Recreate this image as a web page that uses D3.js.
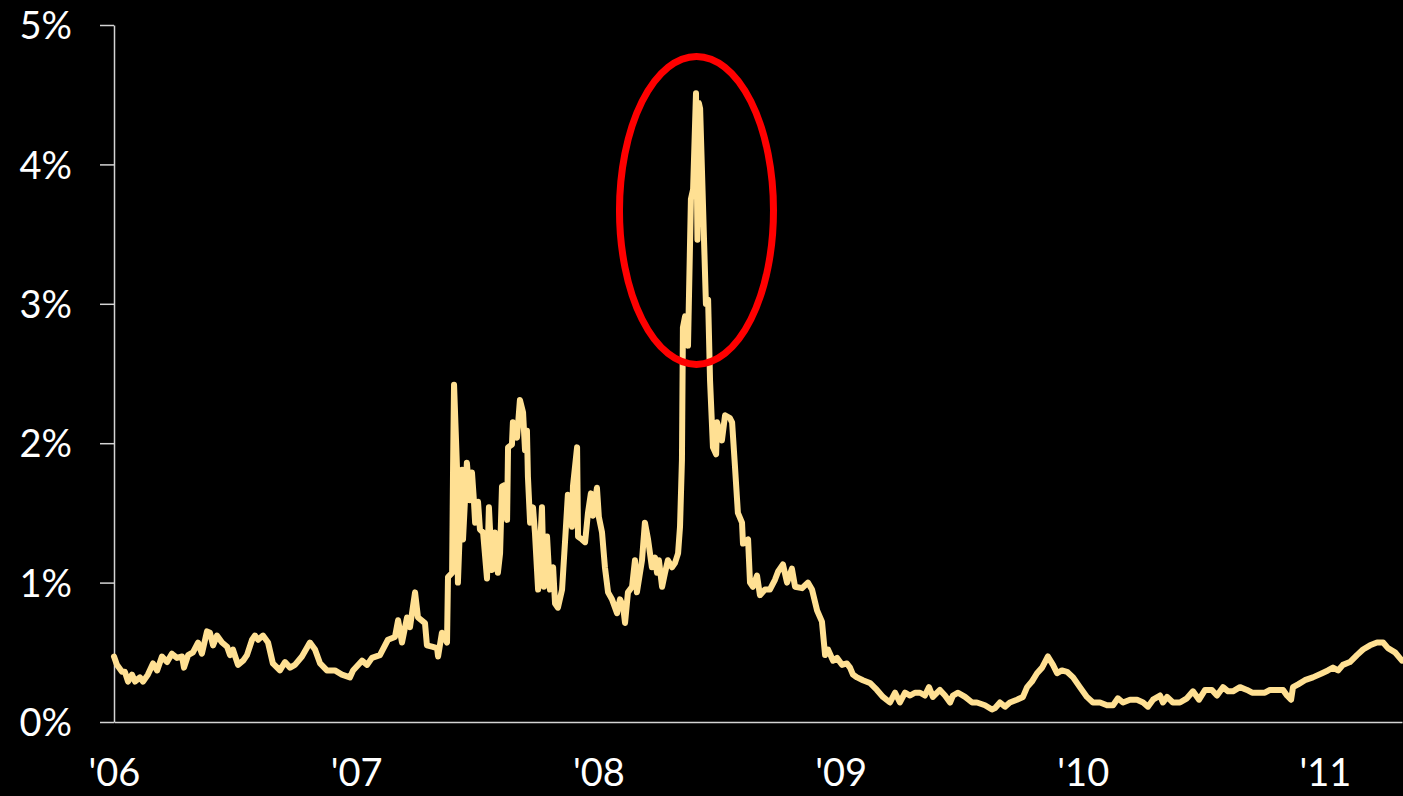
<!DOCTYPE html>
<html lang="en">
<head>
  <meta charset="UTF-8">
  <title>Spread chart 2006-2011</title>
  <style>
      html, body {
          margin: 0;
          padding: 0;
          background: #000;
      }
      .axis path, .axis line {
          stroke: #d4d4d4;
          stroke-width: 1.5px;
      }
      .axis text {
          fill: #fff;
          font-family: Lato, "Open Sans", sans-serif;
          font-size: 38px;
      }
      .line {
          fill: none;
          stroke: #ffe093;
          stroke-width: 6px;
          stroke-linejoin: round;
          stroke-linecap: round;
      }
      .mark {
          fill: none;
          stroke: #ff0000;
          stroke-width: 7px;
      }
  </style>
</head>
<body>
<div id="chart"></div>
<script src="https://d3js.org/d3.v7.min.js"></script>
<script>
  // time as decimal years, values in percent
  const years = [
    2006.000, 2006.012, 2006.033, 2006.045, 2006.058, 2006.074, 2006.087, 2006.107, 2006.120, 2006.140,
    2006.161, 2006.178, 2006.198, 2006.219, 2006.239, 2006.260, 2006.281, 2006.289, 2006.306, 2006.326,
    2006.347, 2006.363, 2006.384, 2006.396, 2006.409, 2006.425, 2006.446, 2006.467, 2006.479, 2006.491,
    2006.512, 2006.533, 2006.549, 2006.570, 2006.582, 2006.595, 2006.615, 2006.636, 2006.656, 2006.685,
    2006.706, 2006.727, 2006.747, 2006.776, 2006.809, 2006.830, 2006.851, 2006.879, 2006.912, 2006.941,
    2006.974, 2006.987, 2007.024, 2007.045, 2007.065, 2007.098, 2007.131, 2007.160, 2007.173, 2007.189,
    2007.210, 2007.222, 2007.243, 2007.255, 2007.284, 2007.292, 2007.313, 2007.334, 2007.338, 2007.354,
    2007.375, 2007.379, 2007.396, 2007.400, 2007.404, 2007.416, 2007.420, 2007.437, 2007.441, 2007.457,
    2007.470, 2007.478, 2007.486, 2007.491, 2007.503, 2007.511, 2007.524, 2007.540, 2007.548, 2007.561,
    2007.573, 2007.585, 2007.594, 2007.602, 2007.614, 2007.623, 2007.627, 2007.643, 2007.647, 2007.664,
    2007.676, 2007.689, 2007.697, 2007.705, 2007.709, 2007.718, 2007.730, 2007.738, 2007.751, 2007.767,
    2007.775, 2007.788, 2007.800, 2007.813, 2007.821, 2007.833, 2007.850, 2007.866, 2007.874, 2007.891,
    2007.895, 2007.912, 2007.916, 2007.932, 2007.945, 2007.957, 2007.969, 2007.978, 2007.994, 2008.002,
    2008.015, 2008.027, 2008.040, 2008.056, 2008.077, 2008.089, 2008.102, 2008.110, 2008.122, 2008.139,
    2008.151, 2008.159, 2008.180, 2008.192, 2008.205, 2008.221, 2008.234, 2008.242, 2008.250, 2008.263,
    2008.275, 2008.287, 2008.304, 2008.316, 2008.329, 2008.337, 2008.345, 2008.349, 2008.358, 2008.370,
    2008.382, 2008.391, 2008.403, 2008.409, 2008.415, 2008.420, 2008.444, 2008.453, 2008.461, 2008.473,
    2008.486, 2008.490, 2008.510, 2008.523, 2008.543, 2008.552, 2008.564, 2008.576, 2008.593, 2008.597,
    2008.618, 2008.626, 2008.638, 2008.655, 2008.667, 2008.688, 2008.708, 2008.729, 2008.742, 2008.762,
    2008.779, 2008.799, 2008.812, 2008.841, 2008.865, 2008.882, 2008.903, 2008.923, 2008.936, 2008.948,
    2008.969, 2008.985, 2009.006, 2009.026, 2009.039, 2009.051, 2009.068, 2009.092, 2009.121, 2009.150,
    2009.175, 2009.204, 2009.225, 2009.245, 2009.266, 2009.287, 2009.307, 2009.328, 2009.348, 2009.365,
    2009.381, 2009.410, 2009.431, 2009.452, 2009.464, 2009.485, 2009.514, 2009.543, 2009.563, 2009.596,
    2009.625, 2009.638, 2009.658, 2009.679, 2009.699, 2009.728, 2009.753, 2009.770, 2009.790, 2009.811,
    2009.832, 2009.856, 2009.877, 2009.894, 2009.914, 2009.935, 2009.960, 2009.988, 2010.017, 2010.042,
    2010.071, 2010.100, 2010.125, 2010.145, 2010.166, 2010.195, 2010.224, 2010.249, 2010.269, 2010.290,
    2010.319, 2010.331, 2010.348, 2010.372, 2010.401, 2010.430, 2010.455, 2010.480, 2010.505, 2010.533,
    2010.554, 2010.579, 2010.600, 2010.620, 2010.649, 2010.678, 2010.699, 2010.723, 2010.752, 2010.773,
    2010.801, 2010.827, 2010.843, 2010.860, 2010.868, 2010.889, 2010.917, 2010.950, 2010.988, 2011.012,
    2011.033, 2011.054, 2011.074, 2011.103, 2011.132, 2011.157, 2011.186, 2011.215, 2011.240, 2011.260,
    2011.289, 2011.318
  ];

  const values = [
    0.47, 0.41, 0.36, 0.36, 0.29, 0.34, 0.29, 0.32, 0.29, 0.34,
    0.42, 0.37, 0.47, 0.43, 0.49, 0.46, 0.47, 0.39, 0.48, 0.50,
    0.57, 0.49, 0.65, 0.64, 0.55, 0.62, 0.57, 0.54, 0.48, 0.52,
    0.41, 0.44, 0.48, 0.59, 0.62, 0.59, 0.62, 0.57, 0.42, 0.37,
    0.43, 0.39, 0.41, 0.47, 0.57, 0.52, 0.42, 0.37, 0.37, 0.34,
    0.32, 0.37, 0.44, 0.41, 0.46, 0.48, 0.59, 0.61, 0.73, 0.57,
    0.75, 0.68, 0.93, 0.75, 0.71, 0.55, 0.54, 0.53, 0.47, 0.64,
    0.57, 1.04, 1.07, 1.83, 2.42, 1.83, 1.00, 1.81, 1.31, 1.86,
    1.59, 1.79, 1.59, 1.43, 1.58, 1.38, 1.36, 1.03, 1.54, 1.09,
    1.36, 1.07, 1.21, 1.69, 1.70, 1.45, 1.97, 1.99, 2.15, 2.04,
    2.31, 2.22, 1.95, 2.09, 1.76, 1.43, 1.54, 1.36, 0.95, 1.54,
    0.97, 1.33, 0.95, 1.11, 0.85, 0.82, 0.95, 1.40, 1.63, 1.40,
    1.69, 1.97, 1.33, 1.31, 1.29, 1.50, 1.64, 1.48, 1.68, 1.47,
    1.36, 1.11, 0.93, 0.88, 0.78, 0.88, 0.83, 0.71, 0.93, 0.97,
    1.16, 0.93, 1.16, 1.43, 1.31, 1.11, 1.18, 1.07, 1.16, 0.97,
    1.07, 1.16, 1.11, 1.14, 1.21, 1.40, 1.88, 2.83, 2.91, 2.70,
    3.75, 3.82, 4.51, 3.46, 4.44, 4.40, 3.00, 3.03, 2.45, 1.97,
    1.92, 2.15, 2.02, 2.20, 2.18, 2.15, 1.83, 1.50, 1.43, 1.28,
    1.31, 1.00, 0.97, 1.05, 0.91, 0.95, 0.95, 1.02, 1.08, 1.13,
    1.00, 1.10, 0.97, 0.96, 1.00, 0.95, 0.80, 0.72, 0.48, 0.52,
    0.44, 0.46, 0.41, 0.42, 0.39, 0.34, 0.32, 0.30, 0.28, 0.23,
    0.18, 0.14, 0.21, 0.14, 0.21, 0.19, 0.21, 0.21, 0.19, 0.25,
    0.18, 0.23, 0.19, 0.14, 0.19, 0.21, 0.18, 0.14, 0.14, 0.12,
    0.09, 0.10, 0.14, 0.11, 0.14, 0.16, 0.18, 0.25, 0.29, 0.35,
    0.39, 0.47, 0.41, 0.35, 0.37, 0.36, 0.32, 0.25, 0.18, 0.14,
    0.14, 0.12, 0.12, 0.17, 0.14, 0.16, 0.16, 0.14, 0.11, 0.16,
    0.19, 0.14, 0.18, 0.14, 0.14, 0.17, 0.22, 0.16, 0.23, 0.23,
    0.19, 0.25, 0.22, 0.22, 0.25, 0.23, 0.21, 0.21, 0.21, 0.23,
    0.23, 0.23, 0.19, 0.16, 0.25, 0.27, 0.30, 0.32, 0.35, 0.37,
    0.39, 0.37, 0.41, 0.43, 0.48, 0.52, 0.55, 0.57, 0.57, 0.53,
    0.50, 0.44
  ];

  const yTicks = [0, 1, 2, 3, 4, 5];
  const yTickLabels = ["0%", "1%", "2%", "3%", "4%", "5%"];
  const xTicks = [2006, 2007, 2008, 2009, 2010, 2011];
  const xTickLabels = ["'06", "'07", "'08", "'09", "'10", "'11"];

  // the circled spike
  const highlightYear = 2008.405;
  const highlightValue = 3.67;

  const W = 1403, H = 796;
  const margin = {top: 25, right: 1, bottom: 74, left: 114};
  const width = W - margin.left - margin.right,
        height = H - margin.top - margin.bottom;

  const svg = d3.select("#chart").append("svg")
    .attr("width", W)
    .attr("height", H)
    .style("display", "block")
    .style("background", "#000")
    .append("g")
    .attr("transform", `translate(${margin.left},${margin.top})`);

  const x = d3.scaleLinear()
    .domain([years[0], years[years.length - 1]])
    .range([0, width]);

  const y = d3.scaleLinear()
    .domain([0, 5])
    .range([height, 0]);

  const yAxis = svg.append("g")
    .attr("class", "axis")
    .call(d3.axisLeft(y)
      .tickValues(yTicks)
      .tickFormat((d, i) => yTickLabels[i])
      .tickSize(14)
      .tickSizeOuter(0)
      .tickPadding(28));
  yAxis.selectAll("text").attr("dy", "0.36em");

  const xAxis = svg.append("g")
    .attr("class", "axis")
    .attr("transform", `translate(0,${height})`)
    .call(d3.axisBottom(x)
      .tickValues(xTicks)
      .tickFormat((d, i) => xTickLabels[i])
      .tickSize(0)
      .tickSizeOuter(0));
  xAxis.selectAll("text")
    .attr("y", 64)
    .attr("dy", 0);

  const line = d3.line()
    .x((d, i) => x(years[i]))
    .y(d => y(d));

  svg.append("path")
    .datum(values)
    .attr("class", "line")
    .attr("d", line);

  svg.append("ellipse")
    .attr("class", "mark")
    .attr("cx", x(highlightYear))
    .attr("cy", y(highlightValue))
    .attr("rx", 77)
    .attr("ry", 154);
</script>
</body>
</html>
